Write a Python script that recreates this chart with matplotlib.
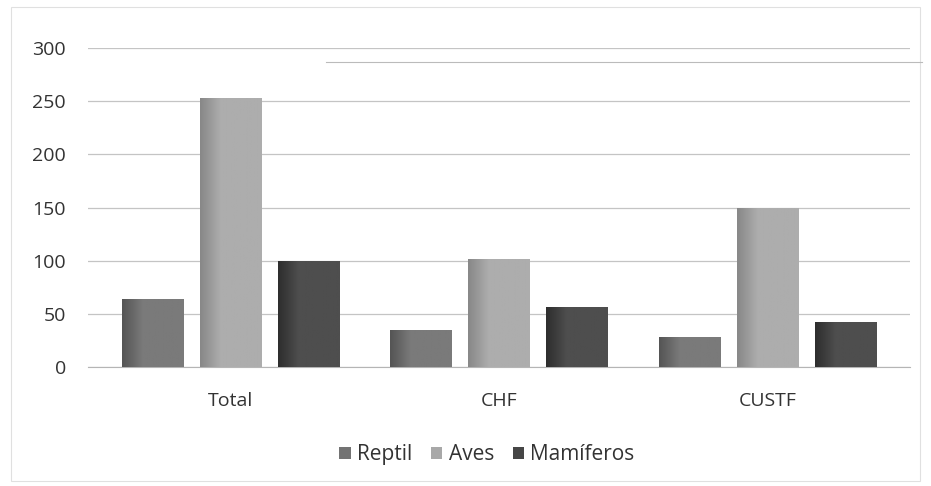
import numpy as np
import matplotlib.pyplot as plt
from matplotlib.colors import LinearSegmentedColormap

categorias = ['Total', 'CHF', 'CUSTF']
series = ['Reptil', 'Aves', 'Mamíferos']
reptil = [64, 35, 28]
aves = [253, 102, 150]
mamiferos = [100, 56, 42]
colores = ['#737373', '#a8a8a8', '#464646']
# tonos para el degradado (borde izquierdo más oscuro)
degradados = [('#555555', '#7a7a7a'), ('#888888', '#adadad'), ('#2e2e2e', '#4e4e4e')]

plt.rcParams['font.family'] = ['Open Sans', 'DejaVu Sans']

fig = plt.figure(figsize=(9.31, 4.86), dpi=100)
ax = fig.add_axes([0.0945, 0.245, 0.8825, 0.656])

x = np.arange(len(categorias))
ancho = 0.228
paso = 0.29
grad = np.linspace(0, 1, 64).reshape(1, -1)
for i, (nom, vals) in enumerate(zip(series, [reptil, aves, mamiferos])):
    barras = ax.bar(x + (i - 1) * paso, vals, ancho, color=colores[i], label=nom, zorder=3)
    cmap = LinearSegmentedColormap.from_list('g%d' % i, [degradados[i][0], degradados[i][1], degradados[i][1], degradados[i][1]])
    for b in barras:
        x0, y0 = b.get_x(), b.get_y()
        im = ax.imshow(grad, cmap=cmap, aspect='auto', zorder=4,
                       extent=[x0, x0 + b.get_width(), y0, y0 + b.get_height()])
        im.set_clip_path(b)

ax.set_ylim(0, 300)
ax.set_xlim(-0.53, 2.53)
ax.set_yticks(range(0, 301, 50))
ax.set_xticks(x)
ax.set_xticklabels(categorias)
ax.yaxis.grid(True, color='#c4c4c4', linewidth=0.9, zorder=0)
for s in ['top', 'right', 'left']:
    ax.spines[s].set_visible(False)
ax.spines['bottom'].set_color('#b5b5b5')
ax.tick_params(axis='both', length=0, labelsize=14, colors='#333333')
ax.tick_params(axis='y', pad=16)
ax.tick_params(axis='x', pad=18)

fig.legend(*ax.get_legend_handles_labels(), loc='center', bbox_to_anchor=(0.523, 0.064),
           ncol=3, frameon=False, fontsize=15, handlelength=0.55, handleheight=0.55,
           handletextpad=0.3, columnspacing=0.9, labelcolor='#333333')

# borde del recuadro escaneado
fig.patches.append(plt.Rectangle((0.012, 0.01), 0.976, 0.975, transform=fig.transFigure,
                                 fill=False, edgecolor='#e0e0e0', linewidth=0.8))
fig.add_artist(plt.Line2D([0.35, 0.99], [0.872, 0.872], color='#bbbbbb', linewidth=0.8,
                          transform=fig.transFigure))

fig.savefig('out.png', dpi=100)
